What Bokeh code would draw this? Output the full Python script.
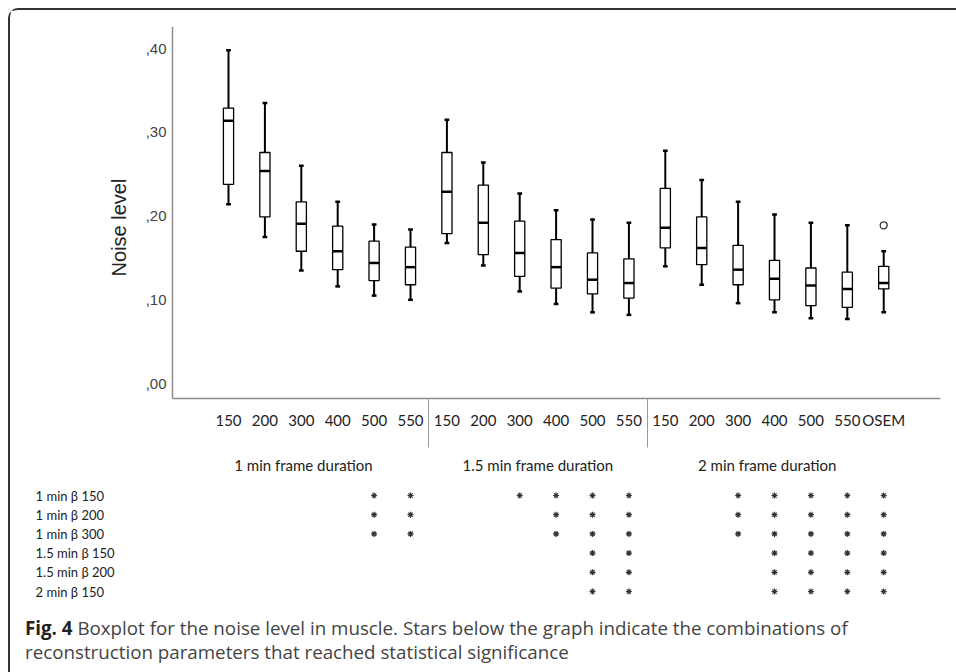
import math
from bokeh.plotting import figure
from bokeh.models import Range1d, FixedTicker, LinearAxis, ColumnDataSource, Div
from bokeh.layouts import column
from bokeh.transform import dodge
from bokeh.embed import file_html
from bokeh.resources import INLINE
from bokeh.core.properties import value

# ---------------- data ----------------
CATEGORIES = ["150", "200", "300", "400", "500", "550",
              "150", "200", "300", "400", "500", "550",
              "150", "200", "300", "400", "500", "550", "OSEM"]
GROUPS = ["1 min frame duration", "1.5 min frame duration", "2 min frame duration"]

WHISKER_HIGH = [0.398, 0.335, 0.260, 0.217, 0.190, 0.184,
                0.315, 0.264, 0.227, 0.207, 0.196, 0.192,
                0.278, 0.243, 0.217, 0.202, 0.192, 0.189, 0.158]
Q3 = [0.329, 0.276, 0.217, 0.188, 0.170, 0.163,
      0.276, 0.237, 0.194, 0.172, 0.156, 0.149,
      0.233, 0.199, 0.165, 0.147, 0.138, 0.133, 0.140]
MEDIAN = [0.314, 0.254, 0.191, 0.158, 0.144, 0.139,
          0.229, 0.192, 0.156, 0.139, 0.124, 0.120,
          0.186, 0.162, 0.136, 0.125, 0.117, 0.113, 0.120]
Q1 = [0.238, 0.199, 0.158, 0.136, 0.123, 0.118,
      0.179, 0.154, 0.128, 0.114, 0.107, 0.102,
      0.162, 0.142, 0.118, 0.100, 0.093, 0.091, 0.113]
WHISKER_LOW = [0.214, 0.175, 0.135, 0.116, 0.105, 0.100,
               0.168, 0.141, 0.110, 0.095, 0.085, 0.082,
               0.140, 0.118, 0.096, 0.085, 0.078, 0.077, 0.085]
OUTLIER_CATEGORY = [18]
OUTLIER_VALUE = [0.189]

Y_TICKS = [0.0, 0.1, 0.2, 0.3, 0.4]
Y_TICK_LABELS = [",00", ",10", ",20", ",30", ",40"]
Y_LABEL = "Noise level"

ROW_LABELS = ["1 min \u03b2 150", "1 min \u03b2 200", "1 min \u03b2 300",
              "1.5 min \u03b2 150", "1.5 min \u03b2 200", "2 min \u03b2 150"]
# category indices (into CATEGORIES) marked with a star, per row
SIGNIFICANT = [
    [4, 5, 8, 9, 10, 11, 14, 15, 16, 17, 18],
    [4, 5, 9, 10, 11, 14, 15, 16, 17, 18],
    [4, 5, 9, 10, 11, 14, 15, 16, 17, 18],
    [10, 11, 15, 16, 17, 18],
    [10, 11, 15, 16, 17, 18],
    [10, 11, 15, 16, 17, 18],
]

CAPTION_BOLD = "Fig. 4"
CAPTION_LINE1 = "Boxplot for the noise level in muscle. Stars below the graph indicate the combinations of"
CAPTION_LINE2 = "reconstruction parameters that reached statistical significance"

# ---------------- layout constants ----------------
N = len(CATEGORIES)
xs = list(range(N))
X_RANGE = (-5.989, 19.560)           # category units over whole frame width
X_AXIS_LEFT = -1.5385                # where the y axis sits
Y_RANGE = (-0.2676, 0.4265)          # noise units over whole frame height
Y_AXIS_BOTTOM = -0.0179              # where the x axis sits
TABLE_RANGE = (5.833, -24.427)       # row units over whole frame height (rows downward)
GROUP_LABEL_X = [2.06, 8.5, 14.8]
SEPARATORS = [5.5, 11.5]
ROW_LABEL_X = -5.30
AXIS_LABEL_X = -3.02
AXIS_LABEL_Y = 0.1864
AXIS_GREY = "#8c8c8c"

p = figure(width=940, height=597, x_range=Range1d(*X_RANGE), y_range=Range1d(*Y_RANGE),
           output_backend="svg", toolbar_location=None, x_axis_type=None, y_axis_type=None,
           min_border_left=0, min_border_right=10, min_border_top=16, min_border_bottom=0)
p.extra_y_ranges = {"table": Range1d(*TABLE_RANGE)}
p.outline_line_color = None
p.background_fill_color = "white"
p.border_fill_color = "white"

# y axis, drawn at a fixed place inside the frame
yaxis = LinearAxis(ticker=FixedTicker(ticks=Y_TICKS, minor_ticks=[]),
                   major_label_overrides=dict(zip(Y_TICKS, Y_TICK_LABELS)),
                   fixed_location=X_AXIS_LEFT, bounds=(Y_AXIS_BOTTOM, Y_RANGE[1]))
yaxis.axis_line_color = AXIS_GREY
yaxis.axis_line_width = 1.5
yaxis.major_tick_out = 0
yaxis.major_tick_in = 0
yaxis.minor_tick_line_color = None
yaxis.major_label_standoff = 6
yaxis.major_label_text_font = "Liberation Sans"
yaxis.major_label_text_font_size = "15px"
yaxis.major_label_text_color = "#444444"
p.add_layout(yaxis, "left")

p.text(x=[AXIS_LABEL_X], y=[AXIS_LABEL_Y], text=[Y_LABEL], angle=math.pi / 2,
       text_align="center", text_baseline="middle", text_font=value("Liberation Sans"),
       text_font_size="20px", text_color="#222222")

# x axis with the category labels
xaxis = LinearAxis(ticker=FixedTicker(ticks=xs, minor_ticks=[]),
                   major_label_overrides={i: c for i, c in enumerate(CATEGORIES)},
                   fixed_location=Y_AXIS_BOTTOM, bounds=(X_AXIS_LEFT, X_RANGE[1]))
xaxis.axis_line_color = AXIS_GREY
xaxis.axis_line_width = 1.5
xaxis.major_tick_out = 0
xaxis.major_tick_in = 0
xaxis.minor_tick_line_color = None
xaxis.major_label_standoff = 13
xaxis.major_label_text_font = "Lato"
xaxis.major_label_text_font_size = "15px"
xaxis.major_label_text_color = "#222222"
p.add_layout(xaxis, "below")

# second level: group labels, with the group separators as (minor) ticks
gaxis = LinearAxis(ticker=FixedTicker(ticks=GROUP_LABEL_X, minor_ticks=SEPARATORS),
                   major_label_overrides=dict(zip(GROUP_LABEL_X, GROUPS)),
                   fixed_location=Y_AXIS_BOTTOM)
gaxis.axis_line_color = None
gaxis.major_tick_line_color = None
gaxis.minor_tick_in = 0
gaxis.minor_tick_out = 49
gaxis.minor_tick_line_color = "#9a9a9a"
gaxis.minor_tick_line_width = 1
gaxis.major_label_standoff = 9
gaxis.major_label_text_font = "Lato"
gaxis.major_label_text_font_size = "15px"
gaxis.major_label_text_color = "#222222"
p.add_layout(gaxis, "below")

src = ColumnDataSource(dict(x=xs, hi=WHISKER_HIGH, q3=Q3, med=MEDIAN, q1=Q1, lo=WHISKER_LOW))
p.segment(x0="x", y0="q3", x1="x", y1="hi", source=src, line_color="black", line_width=2)
p.segment(x0="x", y0="q1", x1="x", y1="lo", source=src, line_color="black", line_width=2)
p.segment(x0=dodge("x", -0.065), y0="hi", x1=dodge("x", 0.065), y1="hi", source=src,
          line_color="black", line_width=2.5)
p.segment(x0=dodge("x", -0.065), y0="lo", x1=dodge("x", 0.065), y1="lo", source=src,
          line_color="black", line_width=2.5)
p.vbar(x="x", width=0.28, bottom="q1", top="q3", source=src, fill_color="white",
       line_color="black", line_width=1.3)
p.segment(x0=dodge("x", -0.14), y0="med", x1=dodge("x", 0.14), y1="med", source=src,
          line_color="black", line_width=2.5)
p.scatter(OUTLIER_CATEGORY, OUTLIER_VALUE, marker="circle", size=7, fill_color="white",
          line_color="#333333", line_width=1.3)

# ---------------- significance table ----------------
rows = list(range(len(ROW_LABELS)))
p.text(x=[ROW_LABEL_X] * len(rows), y=rows, text=ROW_LABELS, y_range_name="table",
       text_font=value("Lato"), text_font_size="13px", text_baseline="middle",
       text_align="left", text_color="#222222")
star_x = [c for r in SIGNIFICANT for c in r]
star_y = [i for i, r in enumerate(SIGNIFICANT) for _ in r]
p.scatter(star_x, star_y, y_range_name="table", marker="asterisk", size=6,
          line_color="#333333", line_width=1.2)

cap = Div(text=('<div style="font-family:\'Open Sans\';font-size:18.75px;line-height:24px;'
                'color:#444;padding:4px 0 0 10px;white-space:nowrap">'
                '<b style="color:#222">' + CAPTION_BOLD + '</b> ' + CAPTION_LINE1 + '<br>' +
                CAPTION_LINE2 + '</div>'),
          width=940, height=57)

layout = column(p, cap, styles={"margin-left": "8px", "margin-top": "8px",
                                "border-left": "2px solid #333", "border-top": "2px solid #333",
                                "border-top-left-radius": "10px", "background": "white"})

open("out.html", "w").write(file_html(layout, INLINE))
